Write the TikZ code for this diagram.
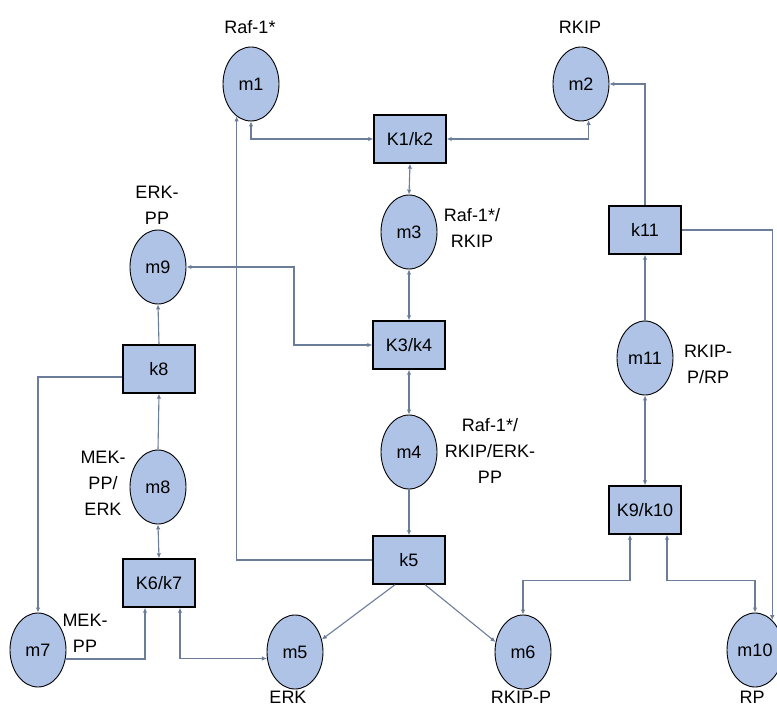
\documentclass[tikz,border=0pt]{standalone}
\usepackage{fontspec}
\setmainfont{Liberation Sans}
\usetikzlibrary{arrows.meta,shapes.geometric}
\definecolor{lineC}{HTML}{6B7D99}
\definecolor{fillC}{HTML}{AFC3E6}
\begin{document}
\begin{tikzpicture}[x=1pt,y=-1pt,
  mol/.style={ellipse, draw=black, line width=0.9pt, fill=fillC, minimum width=56pt, minimum height=74pt, inner sep=0pt, font=\fontsize{18}{20}\selectfont},
  rxn/.style={rectangle, draw=black, line width=1.4pt, fill=fillC, minimum width=72pt, minimum height=48pt, inner sep=0pt, font=\fontsize{18}{20}\selectfont},
  lbl/.style={align=center, inner sep=0pt, font=\fontsize{18}{26}\selectfont},
  con/.style={draw=lineC, line width=1.1pt},
  >={Latex[length=5pt,width=4.5pt]}]
\clip (0,0) rectangle (777,706);
\useasboundingbox (0,0) rectangle (777,706);
\fill[white] (0,0) rectangle (777,706);

% species
\node[mol] (m1) at (251,84) {m1};
\node[mol] (m2) at (581,84) {m2};
\node[mol] (m3) at (409,232) {m3};
\node[mol] (m4) at (409,452) {m4};
\node[mol] (m5) at (295,652) {m5};
\node[mol] (m6) at (523,652) {m6};
\node[mol] (m7) at (38,650) {m7};
\node[mol] (m8) at (158,487) {m8};
\node[mol] (m9) at (158,267) {m9};
\node[mol] (m10) at (755,650) {m10};
\node[mol] (m11) at (645,358) {m11};

% reactions
\node[rxn] (K12) at (410,139) {K1/k2};
\node[rxn] (K34) at (409,345) {K3/k4};
\node[rxn] (k5) at (409,560) {k5};
\node[rxn] (K67) at (159,583) {K6/k7};
\node[rxn] (k8) at (159,369) {k8};
\node[rxn] (K910) at (645,510) {K9/k10};
\node[rxn] (k11) at (645,230) {k11};

% labels
\node[lbl] (l1) at (250,27) {Raf-1*};
\node[lbl] (l2) at (580,27) {RKIP};
\node[lbl] (l9) at (157,205) {ERK-\\PP};
\node[lbl] (l3) at (472,228) {Raf-1*/\\RKIP};
\node[lbl] (l4) at (490,451) {Raf-1*/\\RKIP/ERK-\\PP};
\node[lbl] (l11) at (708,364) {RKIP-\\P/RP};
\node[lbl] (l8) at (103,483) {MEK-\\PP/\\ERK};
\node[lbl] (l7) at (85,633) {MEK-\\PP};
\node[lbl] (l5) at (288,697) {ERK};
\node[lbl] (l6) at (521,697) {RKIP-P};
\node[lbl] (l10) at (752,697) {RP};

\coordinate (b1) at (294,267);

% connectors
\draw[con,<->] (m1.south) |- (K12.west);
\draw[con,<->] (K12.east) -| (m2.-78);
\draw[con,<->] (K12.south) -- (m3.north);
\draw[con,<->] (m3.south) -- (K34.north);
\draw[con,<->] (m9.east) -- (b1) |- (K34.west);
\draw[con,<->] (K34.south) -- (m4.north);
\draw[con,->] (m4.south) -- (k5.north);
\draw[con,->] (k5.west) -| (m1.-114);
\draw[con,->] ([xshift=-14pt]k5.south) -- (m5.25);
\draw[con,->] ([xshift=16pt]k5.south) -- (m6.160);
\draw[con,->] (m8.north) -- (k8.south);
\draw[con,<->] (m8.south) -- (K67.north);
\draw[con,->] (k8.north) -- (m9.south);
\draw[con,->] ([yshift=-8pt]k8.west) -| (m7.north);
\draw[con,->] (m7.-18) -| ([xshift=-14pt]K67.south);
\draw[con,<->] ([xshift=21pt]K67.south) |- (m5.-167);
\draw[con,->] (m11.north) -- (k11.south);
\draw[con,->] (k11.north) |- (m2.east);
\draw[con,->] (k11.east) -| (m10.60);
\draw[con,<->] (m11.south) -- (K910.north);
\draw[con,<->] ([xshift=-15pt]K910.south) -- ++(0,46) -| (m6.north);
\draw[con,<->] ([xshift=22pt]K910.south) -- ++(0,46) -| (m10.north);
\end{tikzpicture}
\end{document}
